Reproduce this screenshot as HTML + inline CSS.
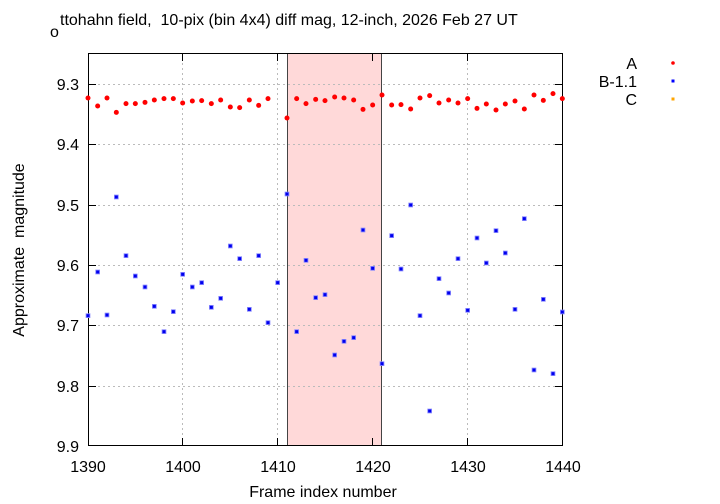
<!DOCTYPE html>
<html><head><meta charset="utf-8"><style>
html,body{margin:0;padding:0;background:#fff}
svg{display:block}
text{font-family:"Liberation Sans",sans-serif;fill:#000;white-space:pre}
</style></head><body>
<svg width="720" height="504" viewBox="0 0 720 504" xmlns="http://www.w3.org/2000/svg">
<rect x="287" y="53" width="94" height="393" fill="#ffd9d9"/>
<g stroke="#bbb" stroke-width="1" stroke-dasharray="2,3">
<line x1="88" y1="84.5" x2="563" y2="84.5"/><line x1="88" y1="144.5" x2="563" y2="144.5"/>
<line x1="88" y1="205.5" x2="563" y2="205.5"/><line x1="88" y1="265.5" x2="563" y2="265.5"/>
<line x1="88" y1="325.5" x2="563" y2="325.5"/><line x1="88" y1="386.5" x2="563" y2="386.5"/>
<line x1="182.5" y1="53" x2="182.5" y2="446"/><line x1="277.5" y1="53" x2="277.5" y2="446"/>
<line x1="467.5" y1="53" x2="467.5" y2="446"/>
</g>
<line x1="287.5" y1="53" x2="287.5" y2="446" stroke="#444"/>
<line x1="381.5" y1="53" x2="381.5" y2="446" stroke="#444"/>
<g stroke="#000" stroke-width="1">
<line x1="88" y1="84.5" x2="96" y2="84.5"/><line x1="88" y1="144.5" x2="96" y2="144.5"/><line x1="88" y1="205.5" x2="96" y2="205.5"/><line x1="88" y1="265.5" x2="96" y2="265.5"/><line x1="88" y1="325.5" x2="96" y2="325.5"/><line x1="88" y1="386.5" x2="96" y2="386.5"/>
<line x1="555" y1="84.5" x2="563" y2="84.5"/><line x1="555" y1="144.5" x2="563" y2="144.5"/><line x1="555" y1="205.5" x2="563" y2="205.5"/><line x1="555" y1="265.5" x2="563" y2="265.5"/><line x1="555" y1="325.5" x2="563" y2="325.5"/><line x1="555" y1="386.5" x2="563" y2="386.5"/>
<line x1="182.5" y1="446" x2="182.5" y2="438"/><line x1="277.5" y1="446" x2="277.5" y2="438"/><line x1="372.5" y1="446" x2="372.5" y2="438"/><line x1="467.5" y1="446" x2="467.5" y2="438"/>
<line x1="182.5" y1="53" x2="182.5" y2="61"/><line x1="277.5" y1="53" x2="277.5" y2="61"/><line x1="372.5" y1="53" x2="372.5" y2="61"/><line x1="467.5" y1="53" x2="467.5" y2="61"/>
</g>
<rect x="88.5" y="53.5" width="474" height="392" fill="none" stroke="#000" stroke-width="1"/>
<g font-size="16" text-anchor="end">
<text x="79" y="90">9.3</text><text x="79" y="150">9.4</text><text x="79" y="211">9.5</text><text x="79" y="271">9.6</text><text x="79" y="331">9.7</text><text x="79" y="392">9.8</text><text x="79" y="452">9.9</text>
</g>
<g font-size="16" text-anchor="middle">
<text x="88" y="472">1390</text><text x="183" y="472">1400</text><text x="278" y="472">1410</text><text x="373" y="472">1420</text><text x="468" y="472">1430</text><text x="563" y="472">1440</text>
<text x="323" y="497">Frame index number</text>
<text transform="translate(24,250) rotate(-90)">Approximate&#160; magnitude</text>
</g>
<text x="50" y="37" font-size="16">o</text>
<text x="60" y="25" font-size="16">ttohahn field,&#160; 10-pix (bin 4x4) diff mag, 12-inch, 2026 Feb 27 UT</text>
<g font-size="16" text-anchor="end">
<text x="637" y="69">A</text><text x="637" y="87">B-1.1</text><text x="637" y="105">C</text>
</g>
<circle cx="673" cy="63" r="1.8" fill="#f00"/>
<rect x="671.5" y="79.5" width="3" height="3" fill="#00f"/>
<rect x="671.5" y="97.5" width="3" height="3" fill="#ffa500"/>
<defs>
<g id="r"><circle r="7.5" fill="#f00"/></g>
<g id="b"><rect x="-7" y="-7" width="14" height="14" fill="#8888ff"/><rect x="-4.5" y="-4.5" width="9" height="9" fill="#0000ee"/></g>
</defs>
<g transform="translate(85,80) scale(0.33333)">
<use href="#r" x="9" y="54"/><use href="#r" x="38" y="78"/><use href="#r" x="66" y="54"/><use href="#r" x="94" y="97"/><use href="#r" x="123" y="71"/><use href="#r" x="151" y="71"/><use href="#r" x="180" y="67"/><use href="#r" x="208" y="60"/><use href="#r" x="237" y="56"/><use href="#r" x="265" y="56"/><use href="#r" x="293" y="69"/><use href="#r" x="322" y="63"/><use href="#r" x="350" y="62"/><use href="#r" x="379" y="71"/><use href="#r" x="407" y="60"/><use href="#r" x="436" y="81"/><use href="#r" x="464" y="83"/><use href="#r" x="493" y="60"/><use href="#r" x="521" y="76"/><use href="#r" x="549" y="56"/><use href="#r" x="606" y="114"/><use href="#r" x="635" y="56"/><use href="#r" x="663" y="71"/><use href="#r" x="692" y="58"/><use href="#r" x="720" y="62"/>
<use href="#b" x="9" y="707"/><use href="#b" x="38" y="576"/><use href="#b" x="66" y="705"/><use href="#b" x="94" y="351"/><use href="#b" x="123" y="527"/><use href="#b" x="151" y="588"/><use href="#b" x="180" y="621"/><use href="#b" x="208" y="679"/><use href="#b" x="237" y="755"/><use href="#b" x="265" y="695"/><use href="#b" x="293" y="583"/><use href="#b" x="322" y="621"/><use href="#b" x="350" y="608"/><use href="#b" x="379" y="682"/><use href="#b" x="407" y="655"/><use href="#b" x="436" y="498"/><use href="#b" x="464" y="536"/><use href="#b" x="493" y="688"/><use href="#b" x="521" y="527"/><use href="#b" x="549" y="728"/><use href="#b" x="578" y="608"/><use href="#b" x="606" y="342"/><use href="#b" x="635" y="755"/><use href="#b" x="663" y="541"/><use href="#b" x="692" y="653"/><use href="#b" x="720" y="644"/>
</g>
<g transform="translate(320,80) scale(0.33333)">
<use href="#r" x="44" y="51"/><use href="#r" x="72" y="54"/><use href="#r" x="101" y="60"/><use href="#r" x="129" y="88"/><use href="#r" x="158" y="75"/><use href="#r" x="186" y="45"/><use href="#r" x="215" y="75"/><use href="#r" x="243" y="74"/><use href="#r" x="272" y="87"/><use href="#r" x="300" y="54"/><use href="#r" x="329" y="47"/><use href="#r" x="357" y="69"/><use href="#r" x="386" y="60"/><use href="#r" x="414" y="69"/><use href="#r" x="443" y="56"/><use href="#r" x="471" y="85"/><use href="#r" x="499" y="72"/><use href="#r" x="528" y="90"/><use href="#r" x="556" y="72"/><use href="#r" x="585" y="63"/><use href="#r" x="613" y="87"/><use href="#r" x="642" y="45"/><use href="#r" x="670" y="61"/><use href="#r" x="699" y="41"/><use href="#r" x="727" y="56"/>
<use href="#b" x="44" y="825"/><use href="#b" x="72" y="784"/><use href="#b" x="101" y="773"/><use href="#b" x="129" y="450"/><use href="#b" x="158" y="565"/><use href="#b" x="186" y="851"/><use href="#b" x="215" y="467"/><use href="#b" x="243" y="567"/><use href="#b" x="272" y="375"/><use href="#b" x="300" y="707"/><use href="#b" x="329" y="993"/><use href="#b" x="357" y="596"/><use href="#b" x="386" y="639"/><use href="#b" x="414" y="536"/><use href="#b" x="443" y="691"/><use href="#b" x="471" y="474"/><use href="#b" x="499" y="549"/><use href="#b" x="528" y="452"/><use href="#b" x="556" y="519"/><use href="#b" x="585" y="688"/><use href="#b" x="613" y="416"/><use href="#b" x="642" y="870"/><use href="#b" x="670" y="658"/><use href="#b" x="699" y="881"/><use href="#b" x="727" y="696"/>
</g>
</svg>
</body></html>
